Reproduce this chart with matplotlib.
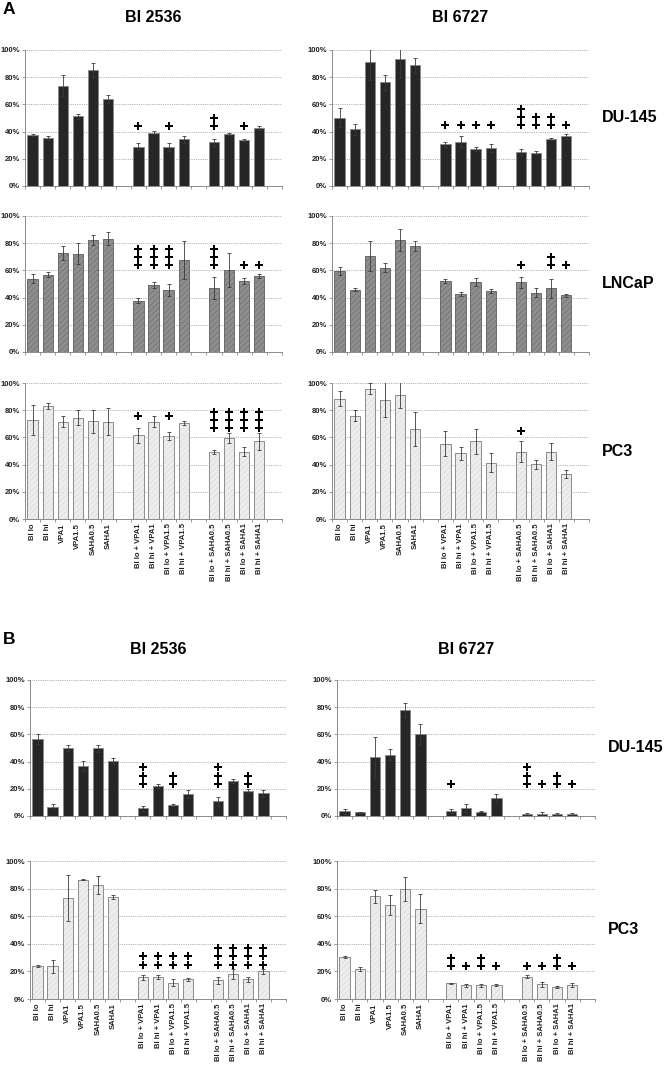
import matplotlib
matplotlib.use('Agg')
import matplotlib.pyplot as plt
import numpy as np

plt.rcParams['font.family'] = ['Liberation Sans', 'DejaVu Sans']
plt.rcParams['hatch.linewidth'] = 0.5

W, H = 664, 1066

categories = ["BI lo", "BI hi", "VPA1", "VPA1.5", "SAHA0.5", "SAHA1",
              "BI lo + VPA1", "BI hi + VPA1", "BI lo + VPA1.5", "BI hi + VPA1.5",
              "BI lo + SAHA0.5", "BI hi + SAHA0.5", "BI lo + SAHA1", "BI hi + SAHA1"]
group_sizes = [6, 4, 4]
y_ticks = [0, 20, 40, 60, 80, 100]
drugs = ["BI 2536", "BI 6727"]

# ---- Panel A ----
a_du145_bi2536 = [37.5, 35, 73.8, 51.2, 85.3, 64.2, 28.9, 39.2, 28.7, 34.3, 32.1, 38.2, 33.8, 42.9]
a_du145_bi2536_err = [1, 1.5, 7.5, 2, 5.5, 3, 2.5, 1, 3, 2.5, 2.5, 1, 1, 1.5]
a_du145_bi2536_plus = [0, 0, 0, 0, 0, 0, 1, 0, 1, 0, 2, 0, 1, 0]

a_du145_bi6727 = [50.2, 41.7, 90.9, 76.2, 93.1, 88.7, 30.6, 32.4, 27, 27.7, 25, 24.5, 34.6, 36.5]
a_du145_bi6727_err = [7, 4, 13, 5.5, 14, 5.5, 2, 4, 1.5, 3, 2, 1, 1, 2]
a_du145_bi6727_plus = [0, 0, 0, 0, 0, 0, 1, 1, 1, 1, 3, 2, 2, 1]

a_lncap_bi2536 = [53.9, 56.8, 72.9, 72.4, 82.2, 83.4, 37.8, 49.3, 45.6, 67.6, 47.3, 60.5, 52.2, 55.9]
a_lncap_bi2536_err = [3.5, 2, 5, 8, 3.5, 4.5, 2, 2.5, 4.5, 14, 8, 12.5, 2.5, 1.5]
a_lncap_bi2536_plus = [0, 0, 0, 0, 0, 0, 3, 3, 3, 0, 3, 0, 1, 1]

a_lncap_bi6727 = [59.8, 45.9, 70.5, 62, 82.2, 78, 52, 42.7, 51.2, 45.1, 51.2, 43.7, 46.8, 41.7]
a_lncap_bi6727_err = [3, 1, 11, 3.5, 8, 3.5, 1.5, 1.5, 3, 1.5, 4, 3.5, 7, 1]
a_lncap_bi6727_plus = [0, 0, 0, 0, 0, 0, 0, 0, 0, 0, 1, 0, 2, 1]

a_pc3_bi2536 = [73, 83, 71.5, 74.5, 72, 71.5, 61.5, 71.5, 61, 70.5, 49.5, 59.5, 49.5, 57]
a_pc3_bi2536_err = [11, 2, 4, 5.5, 8.5, 10, 5.5, 4, 3, 1.5, 1.5, 3.5, 3.5, 6]
a_pc3_bi2536_plus = [0, 0, 0, 0, 0, 0, 1, 0, 1, 0, 3, 3, 3, 3]

a_pc3_bi6727 = [88.5, 76, 95.8, 87.8, 91, 66.5, 55.5, 48.2, 57, 41.3, 49.6, 40.1, 49.6, 32.8]
a_pc3_bi6727_err = [5.5, 4, 4, 13, 9.5, 12.5, 9.5, 4.5, 9.5, 7, 8, 3, 6.5, 3]
a_pc3_bi6727_plus = [0, 0, 0, 0, 0, 0, 0, 0, 0, 0, 1, 0, 0, 0]

# ---- Panel B ----
b_du145_bi2536 = [56.6, 6.8, 50, 36.9, 49.8, 40.5, 5.6, 22.1, 7.8, 16.3, 10.7, 26, 18.7, 16.7]
b_du145_bi2536_err = [4, 1.7, 2, 3.5, 2.5, 2.5, 1.8, 1.5, 0.8, 2.8, 3, 1.5, 0.8, 2.5]
b_du145_bi2536_plus = [0, 0, 0, 0, 0, 0, 3, 0, 2, 0, 3, 0, 2, 0]

b_du145_bi6727 = [3.4, 2.7, 43.1, 44.9, 77.9, 60, 3.4, 5.9, 3.2, 13, 1.5, 1.7, 1.5, 1.7]
b_du145_bi6727_err = [1.8, 0.6, 14.8, 4, 5, 7.5, 1.5, 3, 0.5, 3, 0.5, 1, 0.5, 0.8]
b_du145_bi6727_plus = [0, 0, 0, 0, 0, 0, 1, 0, 0, 0, 3, 1, 2, 1]

b_pc3_bi2536 = [23.6, 23.6, 73, 86.5, 82.9, 73.7, 15.7, 16.1, 11.8, 14.2, 13.5, 18.1, 14.2, 20]
b_pc3_bi2536_err = [0.7, 4.5, 16.5, 0.3, 6.5, 1.5, 2, 1.5, 2.5, 1.2, 2.5, 3.5, 2, 2]
b_pc3_bi2536_plus = [0, 0, 0, 0, 0, 0, 2, 2, 2, 2, 3, 3, 3, 3]

b_pc3_bi6727 = [30.3, 21.8, 74.3, 68.2, 79.6, 65.3, 11.4, 10, 10, 10, 16.3, 10.7, 8.7, 10]
b_pc3_bi6727_err = [0.8, 1.5, 5, 7.5, 8.5, 10.5, 0.5, 1, 1.2, 0.6, 1, 1.8, 0.6, 1.5]
b_pc3_bi6727_plus = [0, 0, 0, 0, 0, 0, 2, 1, 2, 1, 1, 1, 2, 1]

# level (in %) of the lowest "+" for the VPA group and the SAHA group
plus_base = {
    'a_du145_bi2536': [44, 44], 'a_du145_bi6727': [44.5, 44.5],
    'a_lncap_bi2536': [64, 64], 'a_lncap_bi6727': [64, 64],
    'a_pc3_bi2536': [76, 67], 'a_pc3_bi6727': [65, 65],
    'b_du145_bi2536': [23.7, 23.7], 'b_du145_bi6727': [23.7, 23.7],
    'b_pc3_bi2536': [25, 25], 'b_pc3_bi6727': [24, 24],
}
PLUS_STEP = 6.0

# positions: groups separated by one empty slot
positions = []
p = 0
for g in group_sizes:
    positions.extend(range(p, p + g))
    p += g + 1
positions = np.array(positions)
n_slots = p - 1

styles = {
    'dark': dict(face='#262626', hatch=None, hcol=None, edge='#8a8a8a'),
    'mid': dict(face='#8e8e8e', hatch='//////', hcol='#707070', edge='#6a6a6a'),
    'light': dict(face='#ededed', hatch='//////', hcol='#dcdcdc', edge='#8c8c8c'),
}

fig = plt.figure(figsize=(W / 100, H / 100), dpi=100)


def rect(x0, yt, x1, yb):
    return [x0 / W, 1 - yb / H, (x1 - x0) / W, (yb - yt) / H]


def draw(box, name, vals, errs, plus, style, show_labels):
    ax = fig.add_axes(rect(*box))
    st = styles[style]
    vals = np.array(vals, float)
    if st['hatch']:
        ax.bar(positions, vals, width=0.68, color=st['face'], hatch=st['hatch'],
               edgecolor=st['hcol'], linewidth=0, zorder=2)
        ax.bar(positions, vals, width=0.68, fill=False, edgecolor=st['edge'],
               linewidth=0.7, zorder=3)
    else:
        ax.bar(positions, vals, width=0.68, color=st['face'], edgecolor=st['edge'],
               linewidth=0.7, zorder=2)
    ax.errorbar(positions, vals, yerr=errs, fmt='none', ecolor='#3a3a3a',
                elinewidth=0.6, capsize=1.5, capthick=0.6, zorder=4)
    base = plus_base[name]
    px, py = [], []
    for i, (x, n) in enumerate(zip(positions, plus)):
        b = base[0] if i < 10 else base[1]
        for k in range(n):
            px.append(x)
            py.append(b + k * PLUS_STEP)
    if px:
        ax.plot(px, py, ls='none', marker='P', ms=5.5, mew=0, color='black',
                zorder=5, clip_on=False)
    ax.set_xlim(-0.5, n_slots + 0.5)
    ax.set_ylim(0, 100)
    ax.set_yticks(y_ticks)
    ax.set_yticklabels([f"{t}%" for t in y_ticks], fontsize=5.5, fontweight='bold',
                       color='#222222')
    for t in y_ticks[1:]:
        ax.axhline(t, color='#9a9a9a', lw=0.6, ls=(0, (1, 1.2)), zorder=1)
    ax.set_xticks(positions)
    if show_labels:
        ax.set_xticklabels(categories, rotation=90, fontsize=5.5, fontweight='bold',
                           color='#222222')
    else:
        ax.set_xticklabels([])
    ax.set_xticks(np.arange(-0.5, n_slots + 1, 1.0), minor=True)
    ax.tick_params(axis='x', which='major', length=0, pad=3)
    ax.tick_params(axis='x', which='minor', length=2.5, width=0.6, color='#8a8a8a')
    ax.tick_params(axis='y', length=2.5, width=0.6, color='#8a8a8a', pad=1)
    for s in ['top', 'right']:
        ax.spines[s].set_visible(False)
    for s in ['left', 'bottom']:
        ax.spines[s].set_color('#8a8a8a')
        ax.spines[s].set_linewidth(0.7)
    ax.set_facecolor('none')
    return ax


# Panel A
rowsA = [(50, 186), (216, 352), (383, 519)]
colsA = [(25, 282), (332, 589)]
panelA = [
    ('a_du145_bi2536', a_du145_bi2536, a_du145_bi2536_err, a_du145_bi2536_plus,
     'a_du145_bi6727', a_du145_bi6727, a_du145_bi6727_err, a_du145_bi6727_plus, 'dark', 'DU-145'),
    ('a_lncap_bi2536', a_lncap_bi2536, a_lncap_bi2536_err, a_lncap_bi2536_plus,
     'a_lncap_bi6727', a_lncap_bi6727, a_lncap_bi6727_err, a_lncap_bi6727_plus, 'mid', 'LNCaP'),
    ('a_pc3_bi2536', a_pc3_bi2536, a_pc3_bi2536_err, a_pc3_bi2536_plus,
     'a_pc3_bi6727', a_pc3_bi6727, a_pc3_bi6727_err, a_pc3_bi6727_plus, 'light', 'PC3'),
]
for r, (row, (yt, yb)) in enumerate(zip(panelA, rowsA)):
    n1, v1, e1, p1, n2, v2, e2, p2, st, lab = row
    last = r == len(rowsA) - 1
    draw((colsA[0][0], yt, colsA[0][1], yb), n1, v1, e1, p1, st, last)
    draw((colsA[1][0], yt, colsA[1][1], yb), n2, v2, e2, p2, st, last)
    fig.text(602 / W, 1 - (yt + yb) / 2 / H, lab, fontsize=11.5, fontweight='bold',
             ha='left', va='center')

fig.text(3 / W, 1 - 10 / H, 'A', fontsize=12.5, fontweight='bold', ha='left', va='center')
for (x0, x1), d in zip(colsA, drugs):
    fig.text((x0 + x1) / 2 / W, 1 - 18 / H, d, fontsize=11.5, fontweight='bold',
             ha='center', va='center')

# Panel B
rowsB = [(680, 816), (861, 999)]
colsB = [(30, 286), (337, 595)]
panelB = [
    ('b_du145_bi2536', b_du145_bi2536, b_du145_bi2536_err, b_du145_bi2536_plus,
     'b_du145_bi6727', b_du145_bi6727, b_du145_bi6727_err, b_du145_bi6727_plus, 'dark', 'DU-145'),
    ('b_pc3_bi2536', b_pc3_bi2536, b_pc3_bi2536_err, b_pc3_bi2536_plus,
     'b_pc3_bi6727', b_pc3_bi6727, b_pc3_bi6727_err, b_pc3_bi6727_plus, 'light', 'PC3'),
]
for r, (row, (yt, yb)) in enumerate(zip(panelB, rowsB)):
    n1, v1, e1, p1, n2, v2, e2, p2, st, lab = row
    last = r == len(rowsB) - 1
    draw((colsB[0][0], yt, colsB[0][1], yb), n1, v1, e1, p1, st, last)
    draw((colsB[1][0], yt, colsB[1][1], yb), n2, v2, e2, p2, st, last)
    fig.text(608 / W, 1 - (yt + yb) / 2 / H, lab, fontsize=11.5, fontweight='bold',
             ha='left', va='center')

fig.text(3 / W, 1 - 640 / H, 'B', fontsize=12.5, fontweight='bold', ha='left', va='center')
for (x0, x1), d in zip(colsB, drugs):
    fig.text((x0 + x1) / 2 / W, 1 - 650 / H, d, fontsize=11.5, fontweight='bold',
             ha='center', va='center')

fig.savefig('out.png', dpi=100, facecolor='white')
